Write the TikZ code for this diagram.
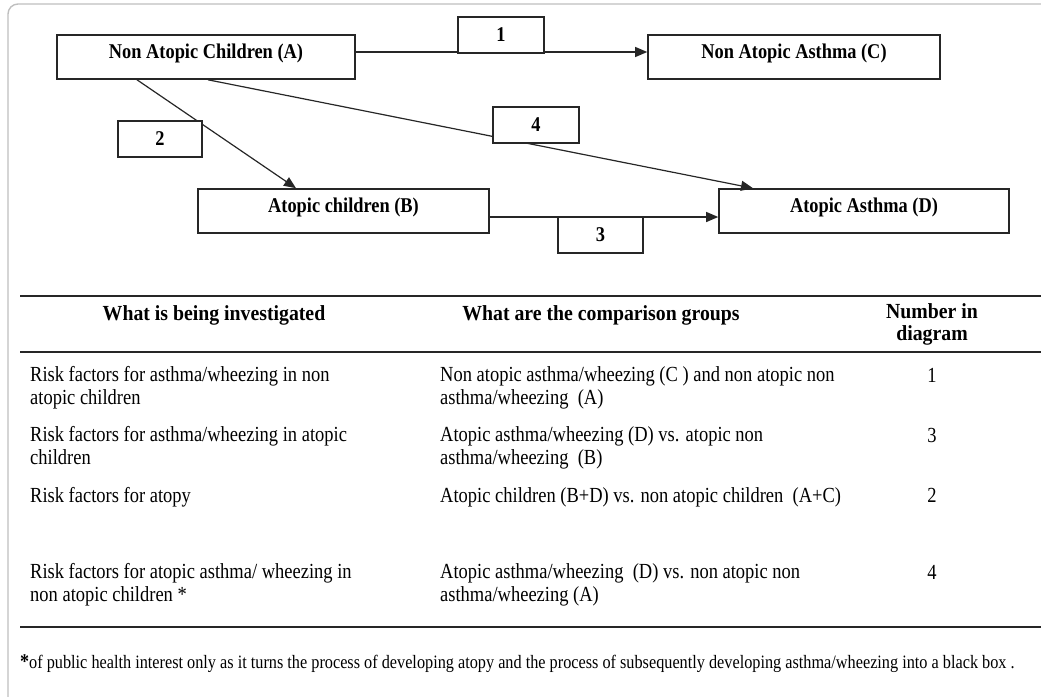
\documentclass[tikz,border=0pt]{standalone}
\usepackage{fontspec}
\setmainfont{Liberation Serif}[FakeStretch=0.86]
\newfontfamily\labelfont{Liberation Serif}[FakeStretch=0.875]
\newfontfamily\headfont{Liberation Serif}[FakeStretch=0.92]
\usetikzlibrary{arrows.meta}
\begin{document}
\begin{tikzpicture}[x=1pt,y=-1pt,
  box/.style={draw=black!85, line width=1.6pt, fill=white, minimum width=#1,
    minimum height=44pt, inner sep=0pt,
    font=\labelfont\fontsize{21}{23}\selectfont\bfseries, text height=0.7em, text depth=0.38em},
  numbox/.style={draw=black!85, line width=1.6pt, fill=white, minimum width=86pt,
    minimum height=36pt, inner sep=0pt, font=\labelfont\fontsize{21}{23}\selectfont\bfseries},
  link/.style={line width=1.2pt, draw=black!85, -{Triangle[length=12pt,width=10pt]}},
  rule/.style={draw=black!85, line width=#1},
  head/.style={font=\headfont\fontsize{21.5}{22}\selectfont\bfseries, inner sep=0pt, align=center},
  cell/.style={font=\fontsize{21.5}{22.5}\selectfont, inner sep=0pt, align=left, anchor=base west},
  num/.style={font=\fontsize{21.5}{22.5}\selectfont, inner sep=0pt, anchor=base},
  note/.style={font=\fontsize{18.9}{20}\selectfont, inner sep=0pt, anchor=base west}]
\useasboundingbox (0,0) rectangle (1041,696);

% frame around the figure
\draw[draw=black!25, line width=1.4pt, rounded corners=10pt] (8,710) -- (8,4) -- (1060,4);

% groups of children
\node[box=298pt] (A) at (206,57) {Non Atopic Children (A)};
\node[box=292pt] (C) at (794,57) {Non Atopic Asthma (C)};
\node[box=291pt] (B) at (343.5,211) {Atopic children (B)};
\node[box=290pt] (D) at (864,211) {Atopic Asthma (D)};

% transitions between groups
\draw[link] ([yshift=5pt]A.east) -- ([yshift=5pt]C.west);
\draw[link] ([xshift=-69pt]A.south) -- ([xshift=-47.5pt]B.north);
\draw[link] ([xshift=2pt]A.south) -- ([xshift=-111pt]D.north);
\draw[link] ([yshift=-6pt]B.east) -- ([yshift=-6pt]D.west);

% comparison numbers
\node[numbox] (n1) at (501,35) {1};
\node[numbox, minimum width=84pt] (n2) at (160,139) {2};
\node[numbox, minimum width=85pt] (n3) at (600.5,235) {3};
\node[numbox] (n4) at (536,125) {4};

% table rules and header
\draw[rule=2pt] (20,296) -- (1041,296);
\node[head] (h1) at (214,315) {What is being investigated};
\node[head] (h2) at (601,315) {What are the comparison groups};
\node[head, anchor=north] (h3) at (932,303) {Number in\\diagram};
\draw[rule=2.6pt] (20,352) -- (1041,352);

% table rows (a cell's y is the baseline of its last line)
\node[cell] (r1a) at (30,404) {Risk factors for asthma/wheezing in non\\atopic children};
\node[cell] (r1b) at (440,404) {Non atopic asthma/wheezing (C ) and non atopic non\\asthma/wheezing\ \ (A)};
\node[num] (r1c) at (932,382) {1};

\node[cell] (r2a) at (30,464) {Risk factors for asthma/wheezing in atopic\\children};
\node[cell] (r2b) at (440,464) {Atopic asthma/wheezing (D) vs. atopic non\\asthma/wheezing\ \ (B)};
\node[num] (r2c) at (932,442) {3};

\node[cell] (r3a) at (30,502) {Risk factors for atopy};
\node[cell] (r3b) at (440,502) {Atopic children (B+D) vs. non atopic children\ \ (A+C)};
\node[num] (r3c) at (932,502) {2};

\node[cell] (r4a) at (30,601) {Risk factors for atopic asthma/ wheezing in\\non atopic children *};
\node[cell] (r4b) at (440,601) {Atopic asthma/wheezing\ \ (D) vs. non atopic non\\asthma/wheezing (A)};
\node[num] (r4c) at (932,579) {4};

\draw[rule=2.6pt] (20,627) -- (1041,627);

% footnote
\node[note] (fn) at (20,668) {{\fontsize{21}{21}\selectfont\bfseries *}of public health interest only as it turns the process of developing atopy and the process of subsequently developing asthma/wheezing into a black box .};
\end{tikzpicture}
\end{document}
